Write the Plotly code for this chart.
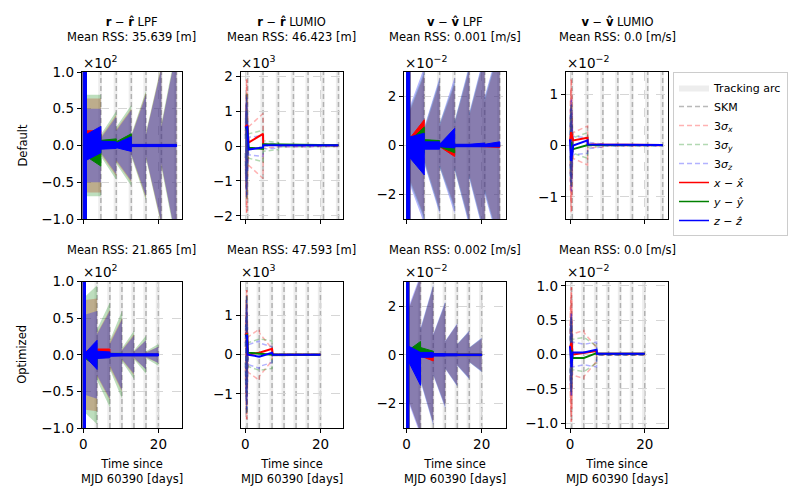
import plotly.graph_objects as go
from plotly.subplots import make_subplots

FONT = "DejaVu Sans"
# the page body keeps its default 8 px margin, so the figure is drawn
# 8 px smaller and every reference pixel position is shifted by it
OFF = 8
W, H = 800 - OFF, 500 - OFF

# ---------------------------------------------------------------
# Data (values in the units of each panel,
# i.e. already divided by the x10^n offset shown above the panel)
# ---------------------------------------------------------------

# time in days since MJD 60390
seg_edges_default = [0.0, 0.85, 4.7, 8.8, 12.8, 16.7, 20.8, 24.8]
seg_edges_optimized = [0.0, 0.6, 3.7, 7.1, 10.3, 13.5, 16.7, 20.0]
skm_default = [0.6, 4.7, 8.8, 12.8, 16.7, 20.8, 24.8]
skm_optimized = [0.45, 3.7, 7.1, 10.3, 13.5, 16.7, 20.0]
arcs_default = [(0.0, 0.9), (4.0, 5.0), (8.1, 9.1), (12.1, 13.1),
                (16.0, 17.0), (20.1, 21.1), (24.1, 25.1)]
arcs_optimized = [(0.0, 0.75), (3.0, 4.0), (6.4, 7.4), (9.6, 10.6),
                  (12.8, 13.8), (16.0, 17.0), (19.3, 20.3)]

# LPF position, default  (x10^2 m) - (start, end) per segment
lpf_pos_def_sx = [(1.5, 1.5), (0.64, 0.64), (0.12, 0.42), (0.22, 0.50), (0.13, 0.72), (0.16, 1.08), (0.27, 1.30)]
lpf_pos_def_sy = [(1.5, 1.5), (0.69, 0.69), (0.15, 0.47), (0.25, 0.55), (0.15, 0.75), (0.18, 1.10), (0.30, 1.35)]
lpf_pos_def_sz = [(1.5, 1.5), (0.50, 0.50), (0.10, 0.39), (0.20, 0.48), (0.12, 0.69), (0.15, 1.05), (0.25, 1.30)]
lpf_pos_def_ex_hi = [(1.5, 1.5), (0.20, 0.20), (0.02, 0.03), (0.04, 0.14), (0.01, 0.01), (0.01, 0.01), (0.01, 0.01)]
lpf_pos_def_ex_lo = [(-1.5, -1.5), (-0.10, -0.05), (-0.02, -0.02), (-0.02, -0.03), (-0.01, -0.01), (-0.01, -0.01), (-0.01, -0.01)]
lpf_pos_def_ey_hi = [(1.5, 1.5), (0.10, 0.15), (0.07, 0.09), (0.05, 0.16), (0.01, 0.01), (0.01, 0.01), (0.01, 0.01)]
lpf_pos_def_ey_lo = [(-1.5, -1.5), (-0.15, -0.28), (-0.02, -0.02), (-0.02, -0.02), (-0.01, -0.01), (-0.01, -0.01), (-0.01, -0.01)]
lpf_pos_def_ez_hi = [(1.5, 1.5), (0.15, 0.26), (0.06, 0.05), (0.03, 0.12), (0.015, 0.015), (0.015, 0.015), (0.015, 0.015)]
lpf_pos_def_ez_lo = [(-1.5, -1.5), (-0.20, -0.10), (-0.05, -0.04), (-0.03, -0.08), (-0.015, -0.015), (-0.015, -0.015), (-0.015, -0.015)]

# LPF position, optimized  (x10^2 m)
lpf_pos_opt_sx = [(1.5, 1.5), (0.75, 0.77), (0.30, 0.62), (0.18, 0.50), (0.07, 0.28), (0.05, 0.20), (0.04, 0.11)]
lpf_pos_opt_sy = [(1.5, 1.5), (0.80, 0.95), (0.35, 0.72), (0.20, 0.60), (0.09, 0.33), (0.06, 0.26), (0.05, 0.15)]
lpf_pos_opt_sz = [(1.5, 1.5), (0.55, 0.60), (0.28, 0.60), (0.15, 0.48), (0.06, 0.26), (0.04, 0.20), (0.03, 0.11)]
lpf_pos_opt_ex_hi = [(1.5, 1.5), (0.05, 0.08), (0.08, 0.08), (0.01, 0.01), (0.01, 0.01), (0.01, 0.01), (0.01, 0.01)]
lpf_pos_opt_ex_lo = [(-1.5, -1.5), (-0.05, -0.03), (-0.01, -0.01), (-0.01, -0.01), (-0.01, -0.01), (-0.01, -0.01), (-0.01, -0.01)]
lpf_pos_opt_ey_hi = [(1.5, 1.5), (0.03, 0.03), (0.02, 0.02), (0.02, 0.02), (0.01, 0.01), (0.01, 0.01), (0.01, 0.01)]
lpf_pos_opt_ey_lo = [(-1.5, -1.5), (-0.05, -0.17), (-0.01, -0.01), (-0.01, -0.01), (-0.01, -0.01), (-0.01, -0.01), (-0.01, -0.01)]
lpf_pos_opt_ez_hi = [(1.5, 1.5), (0.03, 0.20), (0.05, 0.04), (0.02, 0.015), (0.015, 0.015), (0.015, 0.015), (0.015, 0.015)]
lpf_pos_opt_ez_lo = [(-1.5, -1.5), (-0.03, -0.20), (-0.05, -0.04), (-0.02, -0.015), (-0.015, -0.015), (-0.015, -0.015), (-0.015, -0.015)]

# LPF velocity, default  (x10^-2 m/s)
lpf_vel_def_sx = [(5, 5), (1.4, 2.9), (0.6, 2.6), (0.8, 2.5), (0.9, 3.1), (1.2, 3.6), (1.8, 4.0)]
lpf_vel_def_sy = [(5, 5), (1.5, 3.0), (0.7, 2.7), (0.9, 2.6), (1.0, 3.2), (1.3, 3.7), (1.9, 4.1)]
lpf_vel_def_sz = [(5, 5), (1.6, 3.2), (0.75, 2.8), (0.9, 2.8), (1.0, 3.3), (1.35, 3.8), (2.0, 4.2)]
lpf_vel_def_ex_hi = [(5, 5), (0.30, 1.05), (0.10, 0.10), (0.05, 0.05), (0.03, 0.03), (0.03, 0.03), (0.03, 0.03)]
lpf_vel_def_ex_lo = [(-5, -5), (-0.10, -0.10), (-0.05, -0.05), (-0.05, -0.45), (-0.03, -0.03), (-0.03, -0.05), (-0.05, -0.08)]
lpf_vel_def_ey_hi = [(5, 5), (0.20, 0.75), (0.24, 0.20), (0.05, 0.10), (0.03, 0.03), (0.03, 0.03), (0.03, 0.03)]
lpf_vel_def_ey_lo = [(-5, -5), (-0.20, -0.30), (-0.05, -0.05), (-0.05, -0.30), (-0.03, -0.03), (-0.03, -0.03), (-0.03, -0.03)]
lpf_vel_def_ez_hi = [(5, 5), (0.35, 0.50), (0.15, 0.15), (0.05, 0.70), (0.05, 0.05), (0.05, 0.10), (0.05, 0.15)]
lpf_vel_def_ez_lo = [(-5, -5), (-0.50, -1.20), (-0.15, -0.15), (-0.05, -0.10), (-0.05, -0.05), (-0.05, -0.05), (-0.05, -0.05)]

# LPF velocity, optimized  (x10^-2 m/s)
lpf_vel_opt_sx = [(5, 5), (1.9, 3.2), (1.0, 2.8), (0.8, 2.1), (0.55, 1.25), (0.42, 0.95), (0.28, 0.65)]
lpf_vel_opt_sy = [(5, 5), (1.9, 3.2), (1.05, 2.85), (0.82, 2.15), (0.56, 1.28), (0.44, 0.98), (0.30, 0.68)]
lpf_vel_opt_sz = [(5, 5), (2.0, 3.3), (1.1, 2.9), (0.85, 2.2), (0.58, 1.3), (0.45, 1.0), (0.30, 0.70)]
lpf_vel_opt_ex_hi = [(5, 5), (0.10, 0.10), (0.05, 0.05), (0.03, 0.03), (0.03, 0.03), (0.03, 0.03), (0.03, 0.03)]
lpf_vel_opt_ex_lo = [(-5, -5), (-0.10, -0.10), (-0.05, -0.25), (-0.03, -0.03), (-0.03, -0.03), (-0.03, -0.03), (-0.03, -0.03)]
lpf_vel_opt_ey_hi = [(5, 5), (0.20, 0.55), (0.30, 0.15), (0.05, 0.05), (0.03, 0.03), (0.03, 0.03), (0.03, 0.03)]
lpf_vel_opt_ey_lo = [(-5, -5), (-0.10, -0.10), (-0.05, -0.05), (-0.03, -0.03), (-0.03, -0.03), (-0.03, -0.03), (-0.03, -0.03)]
lpf_vel_opt_ez_hi = [(5, 5), (0.35, 0.10), (0.10, 0.10), (0.05, 0.05), (0.04, 0.04), (0.03, 0.03), (0.03, 0.03)]
lpf_vel_opt_ez_lo = [(-5, -5), (-0.30, -1.25), (-0.10, -0.10), (-0.05, -0.05), (-0.04, -0.04), (-0.03, -0.03), (-0.03, -0.03)]

# LUMIO 3-sigma lines (mirrored about zero)
t_sig_default = [0.0, 0.1, 0.2, 0.3, 0.4, 0.5, 0.6, 0.85, 4.7, 4.75, 8.8, 8.85, 24.8]
t_sig_optimized = [0.0, 0.1, 0.2, 0.3, 0.4, 0.5, 0.55, 0.7, 3.7, 3.75, 7.1, 7.15, 20.0]

lumio_pos_def_sx = [0.3, 1.2, -1.5, 1.93, -1.9, 1.5, -0.9, 0.55, 0.93, 0.06, 0.04, 0.02, 0.015]
lumio_pos_def_sy = [0.2, 0.9, -1.2, 1.5, -1.5, 1.0, -0.6, 0.35, 0.45, 0.15, 0.10, 0.02, 0.015]
lumio_pos_def_sz = [0.2, 1.0, -1.3, 1.5, -1.4, 1.1, -0.7, 0.25, 0.30, 0.08, 0.06, 0.02, 0.015]
lumio_vel_def_sx = [0.3, 0.9, -1.1, 1.3, -1.3, 1.0, -0.6, 0.25, 0.38, 0.04, 0.03, 0.01, 0.01]
lumio_vel_def_sy = [0.2, 0.6, -0.7, 0.8, -0.8, 0.6, -0.4, 0.15, 0.25, 0.03, 0.02, 0.01, 0.01]
lumio_vel_def_sz = [0.2, 0.7, -0.8, 0.9, -0.9, 0.7, -0.4, 0.18, 0.15, 0.06, 0.03, 0.01, 0.01]
lumio_pos_opt_sx = [0.3, 1.0, -1.4, 1.65, -1.65, 1.3, -0.9, 0.45, 0.65, 0.55, 0.15, 0.02, 0.015]
lumio_pos_opt_sy = [0.2, 0.8, -1.1, 1.5, -1.5, 1.0, -0.7, 0.30, 0.40, 0.40, 0.35, 0.02, 0.015]
lumio_pos_opt_sz = [0.2, 0.9, -1.2, 1.5, -1.4, 1.1, -0.7, 0.25, 0.35, 0.30, 0.20, 0.02, 0.015]
lumio_vel_opt_sx = [0.3, 0.7, -0.85, 0.98, -0.98, 0.8, -0.5, 0.30, 0.35, 0.32, 0.10, 0.01, 0.01]
lumio_vel_opt_sy = [0.2, 0.4, -0.5, 0.55, -0.55, 0.45, -0.3, 0.22, 0.25, 0.25, 0.12, 0.01, 0.01]
lumio_vel_opt_sz = [0.2, 0.45, -0.55, 0.6, -0.6, 0.5, -0.3, 0.18, 0.15, 0.15, 0.18, 0.01, 0.01]

# LUMIO estimation errors
t_err_pos_def = [0.0, 0.5, 0.85, 4.7, 4.75, 24.8]
lumio_pos_def_ex = [0.55, 0.60, 0.10, 0.35, 0.04, 0.02]
lumio_pos_def_ey = [0.50, 0.52, -0.05, -0.08, 0.05, 0.02]
lumio_pos_def_ez = [0.52, 0.55, -0.10, -0.04, 0.02, 0.02]
t_err_vel_def = [0.0, 0.3, 0.85, 4.7, 4.75, 24.8]
lumio_vel_def_ex = [0.08, 0.26, 0.10, 0.15, 0.02, 0.01]
lumio_vel_def_ey = [0.05, 0.05, -0.07, 0.02, 0.01, 0.01]
lumio_vel_def_ez = [0.12, -0.30, 0.00, 0.10, 0.02, 0.01]
t_err_pos_opt = [0.0, 0.45, 0.6, 3.7, 7.1, 7.3, 20.0]
lumio_pos_opt_ex = [0.50, 0.55, 0.00, 0.05, 0.15, 0.00, 0.00]
lumio_pos_opt_ey = [0.48, 0.50, 0.05, 0.02, 0.00, 0.00, 0.00]
lumio_pos_opt_ez = [0.50, 0.48, 0.00, -0.05, 0.05, 0.00, 0.00]
t_err_vel_opt = [0.0, 0.4, 0.7, 3.7, 7.1, 7.2, 20.0]
lumio_vel_opt_ex = [0.10, 0.17, 0.00, 0.02, 0.05, 0.01, 0.01]
lumio_vel_opt_ey = [0.05, 0.05, -0.05, -0.05, 0.02, 0.01, 0.01]
lumio_vel_opt_ez = [0.12, -0.18, 0.03, 0.03, 0.07, 0.01, 0.01]

# titles / axes text
col_titles = ["<b>r</b> − <b>r\u0302</b> LPF", "<b>r</b> − <b>r\u0302</b> LUMIO",
              "<b>v</b> − <b>v\u0302</b> LPF", "<b>v</b> − <b>v\u0302</b> LUMIO"]
mean_rss_default = ["35.639 [m]", "46.423 [m]", "0.001 [m/s]", "0.0 [m/s]"]
mean_rss_optimized = ["21.865 [m]", "47.593 [m]", "0.002 [m/s]", "0.0 [m/s]"]
offset_exponents = ["2", "3", "−2", "−2"]
row_labels = ["Default", "Optimized"]

# ---------------------------------------------------------------
# Layout geometry (pixels of the 800x500 reference window)
# ---------------------------------------------------------------
col_px = [(81.7, 181.7), (240.5, 343.0), (404.0, 505.7), (565.7, 668.3)]
row_px = [(72.0, 219.0), (281.7, 428.0)]
x_ranges = [[-0.4, 26.2], [-1.3, 26.0], [-0.7, 26.4], [-1.15, 26.3]]
y_ranges = {(1, 1): [-1, 1], (1, 2): [-2.09, 2.12], (1, 3): [-3, 3], (1, 4): [-1.43, 1.43],
            (2, 1): [-1, 1], (2, 2): [-1.87, 1.86], (2, 3): [-3, 3], (2, 4): [-1.07, 1.06]}
y_ticks = {(1, 1): [-1, -0.5, 0, 0.5, 1], (1, 2): [-2, -1, 0, 1, 2], (1, 3): [-2, 0, 2],
           (1, 4): [-1, 0, 1], (2, 1): [-1, -0.5, 0, 0.5, 1], (2, 2): [-1, 0, 1],
           (2, 3): [-2, 0, 2], (2, 4): [-1, -0.5, 0, 0.5, 1]}
y_fmt = {(1, 1): ".1f", (2, 1): ".1f", (2, 4): ".1f"}


def px(x):
    return (x - OFF) / W


def py(y):
    return 1 - (y - OFF) / H


RED, GREEN, BLUE = "rgb(255,0,0)", "rgb(0,128,0)", "rgb(0,0,255)"
SIG_FILL = ["rgba(255,0,0,0.26)", "rgba(0,128,0,0.26)", "rgba(20,20,255,0.31)"]
SIG = ["rgba(255,0,0,0.3)", "rgba(0,128,0,0.3)", "rgba(0,0,255,0.3)"]
ERR = [RED, GREEN, BLUE]
ARC = "rgba(128,128,128,0.14)"
SKM = "rgba(128,128,128,0.55)"


def seg_polygon(edges, hi, lo):
    xs, ys = [], []
    for k in range(len(edges) - 1):
        t0, t1 = edges[k], edges[k + 1]
        xs += [t0, t1, t1, t0, t0, None]
        ys += [hi[k][0], hi[k][1], lo[k][1], lo[k][0], hi[k][0], None]
    return xs, ys


def neg(pairs):
    return [(-a, -b) for a, b in pairs]


fig = make_subplots(rows=2, cols=4)

# LPF panels: dense oscillation drawn as filled envelopes
lpf_panels = [
    (1, 1, seg_edges_default,
     [lpf_pos_def_sx, lpf_pos_def_sy, lpf_pos_def_sz],
     [(lpf_pos_def_ex_hi, lpf_pos_def_ex_lo), (lpf_pos_def_ey_hi, lpf_pos_def_ey_lo),
      (lpf_pos_def_ez_hi, lpf_pos_def_ez_lo)]),
    (2, 1, seg_edges_optimized,
     [lpf_pos_opt_sx, lpf_pos_opt_sy, lpf_pos_opt_sz],
     [(lpf_pos_opt_ex_hi, lpf_pos_opt_ex_lo), (lpf_pos_opt_ey_hi, lpf_pos_opt_ey_lo),
      (lpf_pos_opt_ez_hi, lpf_pos_opt_ez_lo)]),
    (1, 3, seg_edges_default,
     [lpf_vel_def_sx, lpf_vel_def_sy, lpf_vel_def_sz],
     [(lpf_vel_def_ex_hi, lpf_vel_def_ex_lo), (lpf_vel_def_ey_hi, lpf_vel_def_ey_lo),
      (lpf_vel_def_ez_hi, lpf_vel_def_ez_lo)]),
    (2, 3, seg_edges_optimized,
     [lpf_vel_opt_sx, lpf_vel_opt_sy, lpf_vel_opt_sz],
     [(lpf_vel_opt_ex_hi, lpf_vel_opt_ex_lo), (lpf_vel_opt_ey_hi, lpf_vel_opt_ey_lo),
      (lpf_vel_opt_ez_hi, lpf_vel_opt_ez_lo)]),
]

for row, col, edges, sigs, errs in lpf_panels:
    for k, s in enumerate(sigs):
        xs, ys = seg_polygon(edges, s, neg(s))
        fig.add_trace(go.Scatter(x=xs, y=ys, mode="lines", fill="toself",
                                 fillcolor=SIG_FILL[k], line=dict(width=0),
                                 showlegend=False, hoverinfo="skip"),
                      row=row, col=col)
    for k, (hi, lo) in enumerate(errs):
        xs, ys = seg_polygon(edges, hi, lo)
        fig.add_trace(go.Scatter(x=xs, y=ys, mode="lines", fill="toself",
                                 fillcolor=ERR[k], line=dict(width=1, color=ERR[k]),
                                 showlegend=False, hoverinfo="skip"),
                      row=row, col=col)

# LUMIO panels: dashed sigma lines and solid error lines
lumio_panels = [
    (1, 2, t_sig_default, [lumio_pos_def_sx, lumio_pos_def_sy, lumio_pos_def_sz],
     t_err_pos_def, [lumio_pos_def_ex, lumio_pos_def_ey, lumio_pos_def_ez]),
    (1, 4, t_sig_default, [lumio_vel_def_sx, lumio_vel_def_sy, lumio_vel_def_sz],
     t_err_vel_def, [lumio_vel_def_ex, lumio_vel_def_ey, lumio_vel_def_ez]),
    (2, 2, t_sig_optimized, [lumio_pos_opt_sx, lumio_pos_opt_sy, lumio_pos_opt_sz],
     t_err_pos_opt, [lumio_pos_opt_ex, lumio_pos_opt_ey, lumio_pos_opt_ez]),
    (2, 4, t_sig_optimized, [lumio_vel_opt_sx, lumio_vel_opt_sy, lumio_vel_opt_sz],
     t_err_vel_opt, [lumio_vel_opt_ex, lumio_vel_opt_ey, lumio_vel_opt_ez]),
]

for row, col, ts, sigs, te, errs in lumio_panels:
    for k, s in enumerate(sigs):
        xs = list(ts) + [None] + list(ts)
        ys = list(s) + [None] + [-v for v in s]
        fig.add_trace(go.Scatter(x=xs, y=ys, mode="lines",
                                 line=dict(color=SIG[k], width=1.5, dash="5px,3px"),
                                 showlegend=False, hoverinfo="skip"),
                      row=row, col=col)
    for k, e in enumerate(errs):
        fig.add_trace(go.Scatter(x=te, y=e, mode="lines",
                                 line=dict(color=ERR[k], width=2),
                                 showlegend=False, hoverinfo="skip"),
                      row=row, col=col)

# legend entries
legend_items = [
    ("Tracking arc", dict(mode="lines", fill="toself", fillcolor=ARC,
                          line=dict(width=0))),
    ("SKM", dict(mode="lines", line=dict(color=SKM, width=1.5, dash="5px,3px"))),
    ("3<i>σ</i><sub><i>x</i></sub>", dict(mode="lines", line=dict(color=SIG[0], width=1.5, dash="5px,3px"))),
    ("3<i>σ</i><sub><i>y</i></sub>", dict(mode="lines", line=dict(color=SIG[1], width=1.5, dash="5px,3px"))),
    ("3<i>σ</i><sub><i>z</i></sub>", dict(mode="lines", line=dict(color=SIG[2], width=1.5, dash="5px,3px"))),
    ("<i>x</i> − <i>x\u0302</i>", dict(mode="lines", line=dict(color=RED, width=1.5))),
    ("<i>y</i> − <i>y\u0302</i>", dict(mode="lines", line=dict(color=GREEN, width=1.5))),
    ("<i>z</i> − <i>z\u0302</i>", dict(mode="lines", line=dict(color=BLUE, width=1.5))),
]
for name, style in legend_items:
    fig.add_trace(go.Scatter(x=[None], y=[None], name=name, showlegend=True, **style),
                  row=1, col=1)

# axes
axis_style = dict(showline=True, mirror=True, linecolor="black", linewidth=1,
                  ticks="outside", ticklen=4, tickcolor="black", automargin=False,
                  showgrid=True, gridcolor="#d6d6d6", griddash="dash",
                  zeroline=False, tickfont=dict(size=13.5, color="black"))
for row in (1, 2):
    y0, y1 = row_px[row - 1]
    for col in range(1, 5):
        x0, x1 = col_px[col - 1]
        fig.update_xaxes(domain=[px(x0), px(x1)], range=x_ranges[col - 1],
                         tickvals=[0, 20], showticklabels=(row == 2),
                         row=row, col=col, **axis_style)
        fig.update_yaxes(domain=[py(y1), py(y0)], range=y_ranges[(row, col)],
                         tickvals=y_ticks[(row, col)],
                         tickformat=y_fmt.get((row, col), "d"),
                         row=row, col=col, **axis_style)

# tracking arcs and station keeping manoeuvres as layout shapes
shapes = []
for row, arcs, skms in [(1, arcs_default, skm_default), (2, arcs_optimized, skm_optimized)]:
    for col in range(1, 5):
        n = (row - 1) * 4 + col
        xref = "x" if n == 1 else "x%d" % n
        yref = "y domain" if n == 1 else "y%d domain" % n
        for a0, a1 in arcs:
            shapes.append(dict(type="rect", xref=xref, yref=yref, x0=a0, x1=a1, y0=0, y1=1,
                               fillcolor=ARC, line=dict(width=0), layer="below"))
        for t in skms:
            shapes.append(dict(type="line", xref=xref, yref=yref, x0=t, x1=t, y0=0, y1=1,
                               line=dict(color=SKM, width=1.5, dash="5px,3px"), layer="below"))

# text annotations
ann = []
for col in range(4):
    x0, x1 = col_px[col]
    xc = px((x0 + x1) / 2)
    ann.append(dict(x=xc, y=py(30), text=col_titles[col] + "<br>Mean RSS: " + mean_rss_default[col],
                    font=dict(size=11.5)))
    ann.append(dict(x=xc, y=py(250), text="Mean RSS: " + mean_rss_optimized[col],
                    font=dict(size=11.5)))
    ann.append(dict(x=xc, y=py(471), text="Time since<br>MJD 60390 [days]",
                    font=dict(size=11.5)))
    for ry in (62, 271):
        ann.append(dict(x=px(x0 - 1), y=py(ry), xanchor="left",
                        text="×10<sup>" + offset_exponents[col] + "</sup>", font=dict(size=13.5)))
for r, label in enumerate(row_labels):
    y0, y1 = row_px[r]
    ann.append(dict(x=px(22), y=py((y0 + y1) / 2), text=label, textangle=-90,
                    font=dict(size=11.5)))
for a in ann:
    a.update(xref="paper", yref="paper", showarrow=False)
    a.setdefault("xanchor", "center")
    a.setdefault("yanchor", "middle")

fig.update_layout(
    width=W, height=H,
    margin=dict(l=0, r=0, t=0, b=0, autoexpand=False),
    paper_bgcolor="white", plot_bgcolor="white",
    font=dict(family=FONT, color="black"),
    annotations=ann,
    shapes=shapes,
    showlegend=True,
    legend=dict(x=px(673), y=py(72), xanchor="left", yanchor="top",
                bordercolor="#cccccc", borderwidth=1, bgcolor="white",
                font=dict(size=11), itemwidth=30, tracegroupgap=0),
)

fig.write_html("out.html")
